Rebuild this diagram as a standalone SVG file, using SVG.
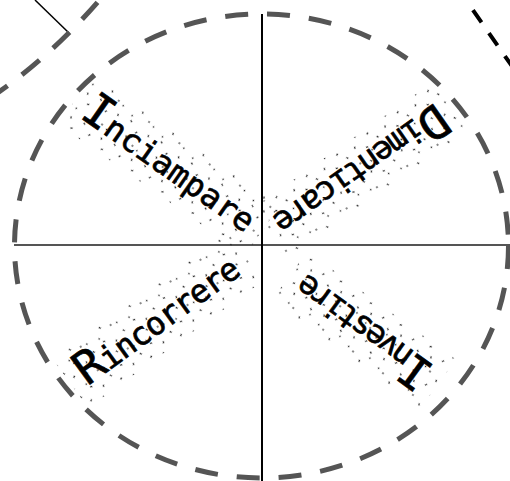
<svg xmlns="http://www.w3.org/2000/svg" width="510" height="481" viewBox="0 0 510 481">
<style>
.lbl{font-family:"DejaVu Sans Mono","Liberation Mono",monospace;font-size:32px;fill:#000;stroke:#000;stroke-width:.7;text-anchor:middle}
.cap{font-size:46px}
.speck{fill:url(#speck)}
.gdash{fill:none;stroke:#555;stroke-width:5}
</style>
<defs>
<pattern id="speck" width="37" height="29" patternUnits="userSpaceOnUse">
<path d="M3 4l1 2M17 2l2 1M29 8l-1 2M9 14l2-1M22 17l1 2M2 24l1-1M32 22l2 0M15 26l1 1" stroke="#111" stroke-width="1.1" fill="none"/>
</pattern>
</defs>
<rect width="510" height="481" fill="#fff"/>
<g id="connectors">
<line x1="14" y1="245" x2="510" y2="245" stroke="#555" stroke-width="2"/>
<line x1="262" y1="14" x2="262" y2="481" stroke="#000" stroke-width="2"/>
<line x1="35" y1="0" x2="69" y2="33" stroke="#000" stroke-width="1.5"/>
</g>
<g id="circle">
<ellipse cx="261.5" cy="246" rx="247" ry="232" class="gdash" stroke-dasharray="23 19"/>
</g>
<g id="outer-left">
<path d="M108 -10Q53 56 -10 98" class="gdash" stroke-dasharray="23 18" stroke-dashoffset="25"/>
</g>
<g id="outer-right">
<path d="M466 0L516 72" fill="none" stroke="#000" stroke-width="4" stroke-dasharray="15 13" stroke-dashoffset="15.8"/>
</g>
<g id="inciampare" transform="translate(162,175) rotate(35)">
<rect class="speck" x="-114" y="-42" width="228" height="60"/>
<text class="lbl" x="0" y="0" textLength="203" lengthAdjust="spacing"><tspan class="cap">I</tspan>nciampare</text>
</g>
<g id="dimenticare" transform="translate(353,160) rotate(145)">
<rect class="speck" x="-112" y="-42" width="224" height="60"/>
<text class="lbl" x="0" y="0" textLength="201" lengthAdjust="spacing"><tspan class="cap">D</tspan>imenticare</text>
</g>
<g id="rincorrere" transform="translate(165,330) rotate(-36)">
<rect class="speck" x="-108" y="-42" width="216" height="60"/>
<text class="lbl" x="0" y="0" textLength="192" lengthAdjust="spacing"><tspan class="cap">R</tspan>incorrere</text>
</g>
<g id="investire" transform="translate(371,320) rotate(216)">
<rect class="speck" x="-92" y="-42" width="184" height="60"/>
<text class="lbl" x="0" y="0" textLength="160" lengthAdjust="spacing"><tspan class="cap">I</tspan>nvestire</text>
</g>
</svg>
